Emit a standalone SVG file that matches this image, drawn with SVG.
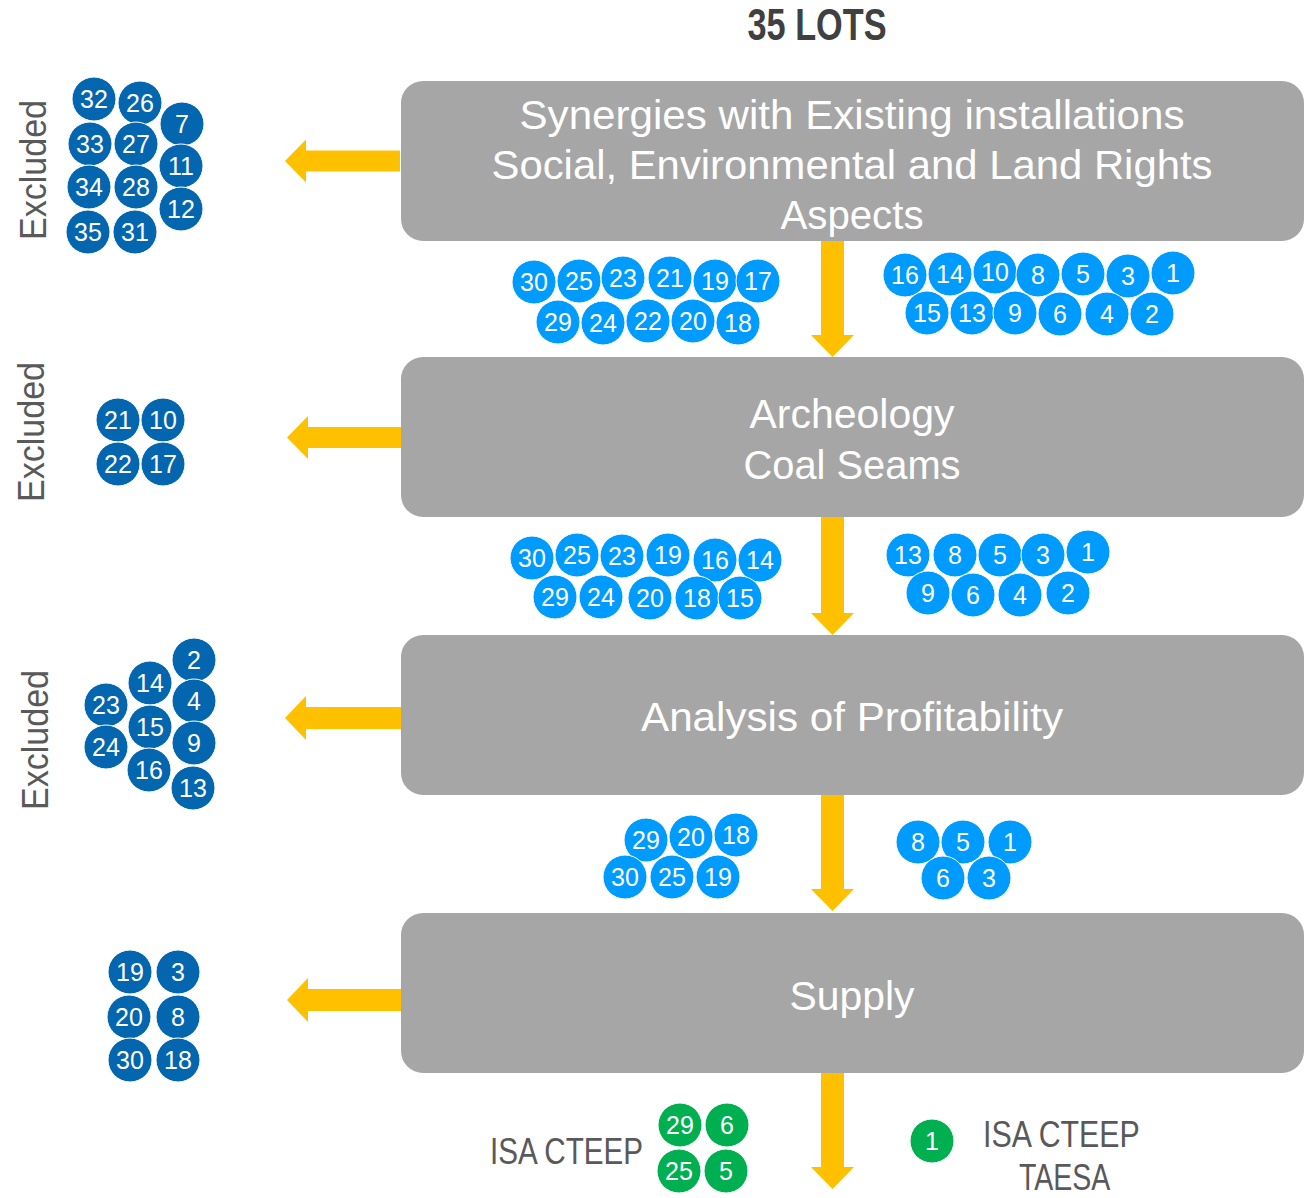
<svg xmlns="http://www.w3.org/2000/svg" width="1305" height="1198" viewBox="0 0 1305 1198">
<style>
.box{fill:#A6A6A6}
.bt{font-family:"Liberation Sans",Arial,sans-serif;font-size:40px;fill:#FFFFFF;text-anchor:middle}
.arr{fill:#FFC000}
.d circle{fill:#0466AF;stroke:#FFFFFF;stroke-width:1}
.l circle{fill:#009BFF;stroke:#FFFFFF;stroke-width:1}
.g circle{fill:#00B050;stroke:#FFFFFF;stroke-width:1}
.n{font-family:"Liberation Sans",Arial,sans-serif;font-size:25px;fill:#FFFFFF;text-anchor:middle}
.ex{font-family:"Liberation Sans",Arial,sans-serif;font-size:36px;fill:#595959;text-anchor:middle}
.lab{font-family:"Liberation Sans",Arial,sans-serif;font-size:37px;fill:#595959}
</style>
<rect width="1305" height="1198" fill="#FFFFFF"/>
<text x="817" y="40" font-family="Liberation Sans,Arial,sans-serif" font-size="44" font-weight="bold" fill="#404040" text-anchor="middle" textLength="139" lengthAdjust="spacingAndGlyphs">35 LOTS</text>

<g id="connectors">
<path class="arr" d="M400,150.5 L306,150.5 L306,139.5 L285,161 L306,182.5 L306,171.5 L400,171.5 Z"/>
<path class="arr" d="M401,427 L308,427 L308,416 L287,437.5 L308,459 L308,448 L401,448 Z"/>
<path class="arr" d="M401,707 L306,707 L306,696 L285,718 L306,740 L306,729 L401,729 Z"/>
<path class="arr" d="M401,989 L308,989 L308,978 L287,1000 L308,1022 L308,1011 L401,1011 Z"/>
<path class="arr" d="M821,241 L844,241 L844,335 L854,335 L832.5,357 L811,335 L821,335 Z"/>
<path class="arr" d="M821,517 L844,517 L844,613 L854,613 L832.5,635 L811,613 L821,613 Z"/>
<path class="arr" d="M821,795 L844,795 L844,889 L854,889 L832.5,911 L811,889 L821,889 Z"/>
<path class="arr" d="M821,1073 L844,1073 L844,1167 L854,1167 L832.5,1189 L811,1167 L821,1167 Z"/>
</g>

<g id="box1">
<rect class="box" x="401" y="81" width="903" height="160" rx="22"/>
<text class="bt" x="852" y="129" textLength="665" lengthAdjust="spacingAndGlyphs">Synergies with Existing installations</text>
<text class="bt" x="852" y="179" textLength="721" lengthAdjust="spacingAndGlyphs">Social, Environmental and Land Rights</text>
<text class="bt" x="852" y="229" textLength="143" lengthAdjust="spacingAndGlyphs">Aspects</text>
</g>
<g id="box2">
<rect class="box" x="401" y="357" width="903" height="160" rx="22"/>
<text class="bt" x="852" y="428" textLength="205" lengthAdjust="spacingAndGlyphs">Archeology</text>
<text class="bt" x="852" y="479" textLength="217" lengthAdjust="spacingAndGlyphs">Coal Seams</text>
</g>
<g id="box3">
<rect class="box" x="401" y="635" width="903" height="160" rx="22"/>
<text class="bt" x="852" y="731" textLength="422" lengthAdjust="spacingAndGlyphs">Analysis of Profitability</text>
</g>
<g id="box4">
<rect class="box" x="401" y="913" width="903" height="160" rx="22"/>
<text class="bt" x="852" y="1010" textLength="125" lengthAdjust="spacingAndGlyphs">Supply</text>
</g>

<g id="excluded-labels">
<text class="ex" transform="translate(46,170) rotate(-90)" textLength="140" lengthAdjust="spacingAndGlyphs">Excluded</text>
<text class="ex" transform="translate(44,432) rotate(-90)" textLength="140" lengthAdjust="spacingAndGlyphs">Excluded</text>
<text class="ex" transform="translate(48,740) rotate(-90)" textLength="140" lengthAdjust="spacingAndGlyphs">Excluded</text>
</g>

<g id="excluded1" class="d">
<circle cx="94" cy="99" r="22"/><text class="n" x="94" y="108">32</text>
<circle cx="140" cy="103" r="22"/><text class="n" x="140" y="112">26</text>
<circle cx="182" cy="124" r="22"/><text class="n" x="182" y="133">7</text>
<circle cx="90" cy="144" r="22"/><text class="n" x="90" y="153">33</text>
<circle cx="136" cy="144" r="22"/><text class="n" x="136" y="153">27</text>
<circle cx="181" cy="166" r="22"/><text class="n" x="181" y="175">11</text>
<circle cx="89" cy="187" r="22"/><text class="n" x="89" y="196">34</text>
<circle cx="136" cy="187" r="22"/><text class="n" x="136" y="196">28</text>
<circle cx="181" cy="209" r="22"/><text class="n" x="181" y="218">12</text>
<circle cx="88" cy="232" r="22"/><text class="n" x="88" y="241">35</text>
<circle cx="135" cy="232" r="22"/><text class="n" x="135" y="241">31</text>
</g>

<g id="pass1-left" class="l">
<circle cx="534" cy="282" r="22"/><text class="n" x="534" y="291">30</text>
<circle cx="579" cy="281" r="22"/><text class="n" x="579" y="290">25</text>
<circle cx="623" cy="278" r="22"/><text class="n" x="623" y="287">23</text>
<circle cx="670" cy="278" r="22"/><text class="n" x="670" y="287">21</text>
<circle cx="715" cy="281" r="22"/><text class="n" x="715" y="290">19</text>
<circle cx="758" cy="281" r="22"/><text class="n" x="758" y="290">17</text>
<circle cx="558" cy="322" r="22"/><text class="n" x="558" y="331">29</text>
<circle cx="603" cy="323" r="22"/><text class="n" x="603" y="332">24</text>
<circle cx="648" cy="321" r="22"/><text class="n" x="648" y="330">22</text>
<circle cx="693" cy="321" r="22"/><text class="n" x="693" y="330">20</text>
<circle cx="738" cy="323" r="22"/><text class="n" x="738" y="332">18</text>
</g>

<g id="pass1-right" class="l">
<circle cx="905" cy="275" r="22"/><text class="n" x="905" y="284">16</text>
<circle cx="950" cy="274" r="22"/><text class="n" x="950" y="283">14</text>
<circle cx="995" cy="272" r="22"/><text class="n" x="995" y="281">10</text>
<circle cx="1038" cy="275" r="22"/><text class="n" x="1038" y="284">8</text>
<circle cx="1083" cy="274" r="22"/><text class="n" x="1083" y="283">5</text>
<circle cx="1128" cy="276" r="22"/><text class="n" x="1128" y="285">3</text>
<circle cx="1173" cy="273" r="22"/><text class="n" x="1173" y="282">1</text>
<circle cx="927" cy="313" r="22"/><text class="n" x="927" y="322">15</text>
<circle cx="972" cy="313" r="22"/><text class="n" x="972" y="322">13</text>
<circle cx="1015" cy="313" r="22"/><text class="n" x="1015" y="322">9</text>
<circle cx="1060" cy="314" r="22"/><text class="n" x="1060" y="323">6</text>
<circle cx="1107" cy="314" r="22"/><text class="n" x="1107" y="323">4</text>
<circle cx="1152" cy="314" r="22"/><text class="n" x="1152" y="323">2</text>
</g>

<g id="excluded2" class="d">
<circle cx="118" cy="420" r="22"/><text class="n" x="118" y="429">21</text>
<circle cx="163" cy="420" r="22"/><text class="n" x="163" y="429">10</text>
<circle cx="118" cy="464" r="22"/><text class="n" x="118" y="473">22</text>
<circle cx="163" cy="464" r="22"/><text class="n" x="163" y="473">17</text>
</g>

<g id="pass2-left" class="l">
<circle cx="532" cy="558" r="22"/><text class="n" x="532" y="567">30</text>
<circle cx="577" cy="555" r="22"/><text class="n" x="577" y="564">25</text>
<circle cx="622" cy="556" r="22"/><text class="n" x="622" y="565">23</text>
<circle cx="668" cy="555" r="22"/><text class="n" x="668" y="564">19</text>
<circle cx="715" cy="560" r="22"/><text class="n" x="715" y="569">16</text>
<circle cx="760" cy="560" r="22"/><text class="n" x="760" y="569">14</text>
<circle cx="555" cy="597" r="22"/><text class="n" x="555" y="606">29</text>
<circle cx="601" cy="597" r="22"/><text class="n" x="601" y="606">24</text>
<circle cx="650" cy="598" r="22"/><text class="n" x="650" y="607">20</text>
<circle cx="697" cy="598" r="22"/><text class="n" x="697" y="607">18</text>
<circle cx="740" cy="598" r="22"/><text class="n" x="740" y="607">15</text>
</g>

<g id="pass2-right" class="l">
<circle cx="908" cy="555" r="22"/><text class="n" x="908" y="564">13</text>
<circle cx="955" cy="555" r="22"/><text class="n" x="955" y="564">8</text>
<circle cx="1000" cy="555" r="22"/><text class="n" x="1000" y="564">5</text>
<circle cx="1043" cy="555" r="22"/><text class="n" x="1043" y="564">3</text>
<circle cx="1088" cy="552" r="22"/><text class="n" x="1088" y="561">1</text>
<circle cx="928" cy="593" r="22"/><text class="n" x="928" y="602">9</text>
<circle cx="973" cy="595" r="22"/><text class="n" x="973" y="604">6</text>
<circle cx="1020" cy="595" r="22"/><text class="n" x="1020" y="604">4</text>
<circle cx="1068" cy="593" r="22"/><text class="n" x="1068" y="602">2</text>
</g>

<g id="excluded3" class="d">
<circle cx="194" cy="660" r="22"/><text class="n" x="194" y="669">2</text>
<circle cx="150" cy="683" r="22"/><text class="n" x="150" y="692">14</text>
<circle cx="194" cy="701" r="22"/><text class="n" x="194" y="710">4</text>
<circle cx="106" cy="705" r="22"/><text class="n" x="106" y="714">23</text>
<circle cx="150" cy="727" r="22"/><text class="n" x="150" y="736">15</text>
<circle cx="194" cy="743" r="22"/><text class="n" x="194" y="752">9</text>
<circle cx="106" cy="747" r="22"/><text class="n" x="106" y="756">24</text>
<circle cx="149" cy="770" r="22"/><text class="n" x="149" y="779">16</text>
<circle cx="193" cy="788" r="22"/><text class="n" x="193" y="797">13</text>
</g>

<g id="pass3-left" class="l">
<circle cx="646" cy="840" r="22"/><text class="n" x="646" y="849">29</text>
<circle cx="691" cy="837" r="22"/><text class="n" x="691" y="846">20</text>
<circle cx="736" cy="835" r="22"/><text class="n" x="736" y="844">18</text>
<circle cx="625" cy="877" r="22"/><text class="n" x="625" y="886">30</text>
<circle cx="672" cy="877" r="22"/><text class="n" x="672" y="886">25</text>
<circle cx="718" cy="877" r="22"/><text class="n" x="718" y="886">19</text>
</g>

<g id="pass3-right" class="l">
<circle cx="918" cy="842" r="22"/><text class="n" x="918" y="851">8</text>
<circle cx="963" cy="842" r="22"/><text class="n" x="963" y="851">5</text>
<circle cx="1010" cy="842" r="22"/><text class="n" x="1010" y="851">1</text>
<circle cx="943" cy="878" r="22"/><text class="n" x="943" y="887">6</text>
<circle cx="989" cy="878" r="22"/><text class="n" x="989" y="887">3</text>
</g>

<g id="excluded4" class="d">
<circle cx="130" cy="972" r="22"/><text class="n" x="130" y="981">19</text>
<circle cx="178" cy="972" r="22"/><text class="n" x="178" y="981">3</text>
<circle cx="129" cy="1017" r="22"/><text class="n" x="129" y="1026">20</text>
<circle cx="178" cy="1017" r="22"/><text class="n" x="178" y="1026">8</text>
<circle cx="130" cy="1060" r="22"/><text class="n" x="130" y="1069">30</text>
<circle cx="178" cy="1060" r="22"/><text class="n" x="178" y="1069">18</text>
</g>

<g id="result-left" class="g">
<text class="lab" transform="translate(490,1164) scale(0.8,1)">ISA CTEEP</text>
<circle cx="680" cy="1125" r="22"/><text class="n" x="680" y="1134">29</text>
<circle cx="727" cy="1125" r="22"/><text class="n" x="727" y="1134">6</text>
<circle cx="679" cy="1171" r="22"/><text class="n" x="679" y="1180">25</text>
<circle cx="726" cy="1171" r="22"/><text class="n" x="726" y="1180">5</text>
</g>

<g id="result-right" class="g">
<circle cx="932" cy="1141" r="22"/><text class="n" x="932" y="1150">1</text>
<text class="lab" transform="translate(983,1147) scale(0.82,1)">ISA CTEEP</text>
<text class="lab" transform="translate(1019,1190) scale(0.77,1)">TAESA</text>
</g>
</svg>
